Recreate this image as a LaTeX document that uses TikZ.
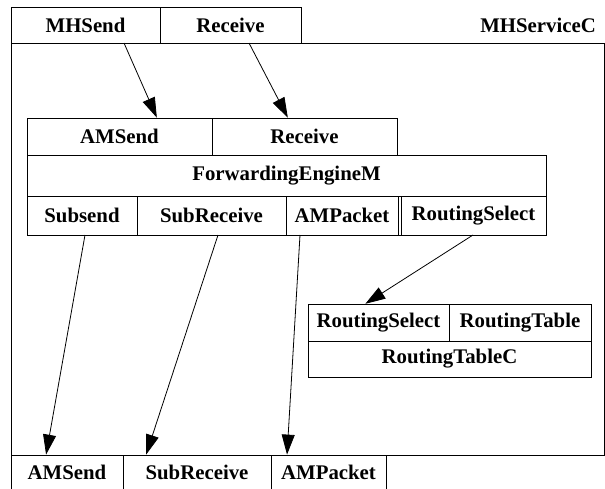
\documentclass[tikz,border=0pt]{standalone}
\usepackage{fontspec}
\setmainfont{Liberation Serif}
\usetikzlibrary{arrows.meta}
\begin{document}
\begin{tikzpicture}[x=1pt,y=-1pt,
  box/.style={draw, line width=0.9pt, rectangle, inner sep=0pt, outer sep=0pt,
    font=\fontsize{20.8}{24}\selectfont\bfseries},
  wire/.style={line width=0.8pt, -{Triangle[length=20pt,width=13pt]}, shorten >=0.4pt}
]
\useasboundingbox (0,0) rectangle (605,488);
\clip (0,0) rectangle (605,488);

% outer component MHServiceC
\node[box, minimum width=593pt, minimum height=412pt] (svc) at (307.5,249) {};
\node[box, minimum width=149pt, minimum height=36pt] (mhsend) at (85.5,25) {MHSend};
\node[box, minimum width=141pt, minimum height=36pt] (rcvtop) at (230.5,25) {Receive};
\node[font=\fontsize{20.8}{24}\selectfont\bfseries, inner sep=0pt] (svcname) at (538,25) {MHServiceC};

% ForwardingEngineM
\node[box, minimum width=185pt, minimum height=37pt] (amsend) at (119.5,136.5) {AMSend};
\node[box, minimum width=185pt, minimum height=37pt] (ferecv) at (304.5,136.5) {Receive};
\node[box, minimum width=519pt, minimum height=41pt] (fe) at (286.5,175.5) {ForwardingEngineM};
\node[box, minimum width=110pt, minimum height=39pt] (subsend) at (82,215.5) {Subsend};
\node[box, minimum width=149pt, minimum height=39pt] (subrecv) at (211.5,215.5) {SubReceive};
\node[box, minimum width=112pt, minimum height=39pt] (ampacket) at (342,215.5) {AMPacket};
\node[box, minimum width=148pt, minimum height=39pt] (rsel) at (472,215.5) {\hspace*{3pt}RoutingSelect};
\draw[line width=0.9pt] ([xshift=3pt]rsel.north west) -- ([xshift=3pt]rsel.south west);

% RoutingTableC
\node[box, minimum width=141pt, minimum height=37pt] (rtsel) at (378.5,322.5) {RoutingSelect};
\node[box, minimum width=142pt, minimum height=37pt] (rttab) at (520,322.5) {RoutingTable};
\node[box, minimum width=283pt, minimum height=36pt] (rtc) at (449.5,359) {RoutingTableC};

% exported interfaces at the bottom
\node[box, minimum width=112pt, minimum height=35pt] (bamsend) at (67,472.5) {AMSend};
\node[box, minimum width=148pt, minimum height=35pt] (bsubrecv) at (197,472.5) {SubReceive};
\node[box, minimum width=115pt, minimum height=35pt] (bampacket) at (328.5,472.5) {AMPacket};

% wiring
\draw[wire] ([xshift=38.5pt]mhsend.south) -- ([xshift=37.5pt]amsend.north);
\draw[wire] ([xshift=18.5pt]rcvtop.south) -- ([xshift=-16.5pt]ferecv.north);
\draw[wire] ([xshift=3pt]subsend.south) -- ([xshift=-21pt]bamsend.north);
\draw[wire] ([xshift=6.5pt]subrecv.south) -- ([xshift=-51pt]bsubrecv.north);
\draw[wire] ([xshift=-42pt]ampacket.south) -- ([xshift=-41.5pt]bampacket.north);
\draw[wire] ([xshift=1pt]rsel.south) -- ([xshift=-13.5pt]rtsel.north);
\end{tikzpicture}
\end{document}
